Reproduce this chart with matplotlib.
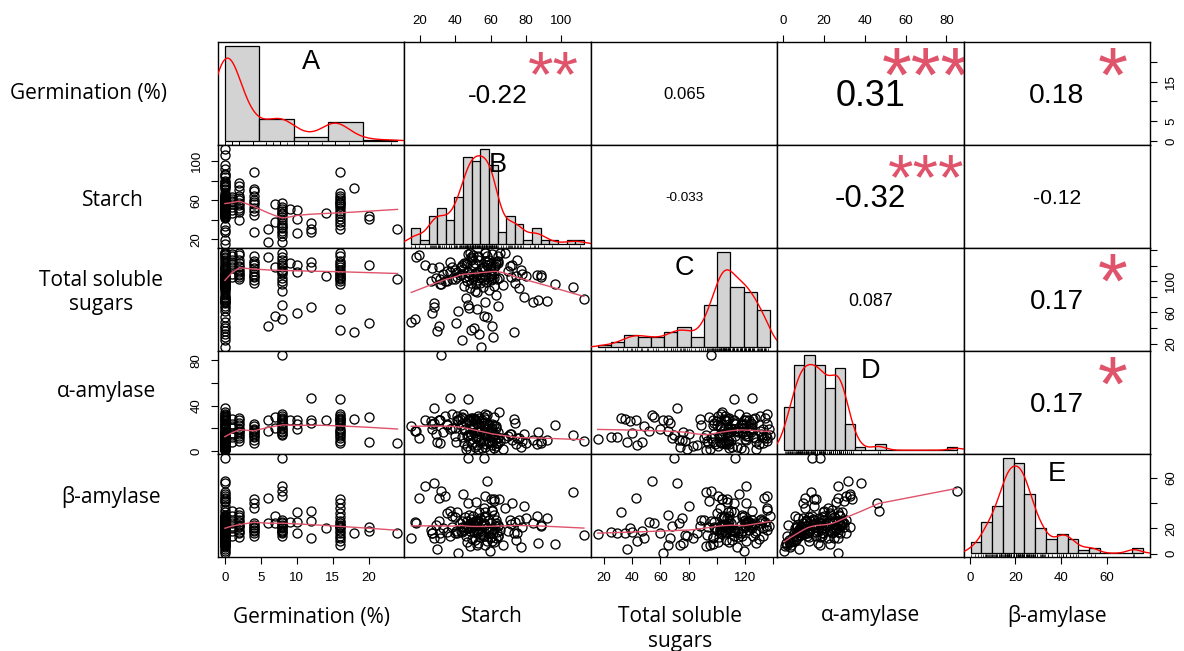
import numpy as np
import matplotlib
matplotlib.use("Agg")
import matplotlib.pyplot as plt
import matplotlib.transforms as mtransforms
from matplotlib.textpath import TextPath
from matplotlib.font_manager import FontProperties

plt.rcParams['font.family'] = ['Liberation Sans', 'DejaVu Sans']

# ---------------- data (one row per sample) ----------------
germination = [
    0, 0, 0, 0, 0, 0, 0, 0, 0, 0, 0, 0, 0, 0, 0, 0, 0, 0, 0, 0,
    0, 0, 0, 0, 0, 0, 0, 0, 0, 0, 0, 0, 0, 0, 0, 0, 0, 0, 0, 0,
    0, 0, 0, 0, 0, 0, 0, 0, 0, 0, 0, 0, 0, 0, 0, 0, 0, 0, 0, 0,
    0, 0, 0, 0, 0, 0, 0, 0, 0, 0,
    1, 1, 1, 1, 1, 1, 1, 1,
    2, 2, 2, 2, 2, 2, 2, 2, 2, 2, 2, 2,
    4, 4, 4, 4, 4, 4, 4, 4, 4, 4, 4,
    6, 6, 7, 7,
    8, 8, 8, 8, 8, 8, 8, 8, 8, 8, 8, 8, 8, 8, 8, 8,
    9, 10, 10, 10, 12, 12, 12, 14,
    16, 16, 16, 16, 16, 16, 16, 16, 16, 16, 16, 16, 16, 16, 16, 16, 16,
    18, 20, 20, 24,
]
starch = [
    15, 19.4, 27.6, 29.4, 34, 41.5, 42.5, 43.5, 44.4, 45,
    45.5, 46, 46.5, 46.8, 47.5, 48, 48.5, 49, 49.5, 50,
    50.5, 51, 51.5, 51.8, 52, 52.5, 53, 53.5, 53.8, 54,
    54.5, 55, 55.5, 56, 56.5, 57, 57.5, 58, 58.5, 59,
    59.5, 60, 60.5, 60.8, 61, 61.5, 61.8, 62, 62.5, 63,
    63.2, 63.5, 64, 64.5, 65, 67, 71.5, 73.5, 74.5, 76,
    77, 78.7, 80, 84, 86, 86.8, 91.7, 96.5, 106.5, 112.8,
    59, 53, 56, 61, 58, 50, 47, 63,
    78, 75, 71, 60, 57, 52, 50, 40, 64, 62, 55, 48,
    88.6, 72, 70, 60, 58, 56, 27, 64, 52, 45, 49,
    30.6, 17.4, 56, 38,
    31.7, 47, 23, 57, 53, 49, 46, 43, 40, 37, 33, 29, 26, 17, 51, 35,
    51, 41, 26.5, 50, 37, 30.5, 28, 47,
    88.6, 68, 64, 62, 60, 58, 56, 54, 47, 44, 41, 38, 35, 31, 52, 49, 57,
    73, 44, 40.5, 31,
]
total_sugars = [
    48, 133.5, 72, 36, 101, 62, 108, 25, 116, 94,
    105, 79, 122, 100.5, 65.5, 110, 92, 131.5, 130, 103,
    39.5, 111, 96, 107, 86, 102, 128, 32, 97.5, 104.5,
    15.4, 117, 93, 113, 74, 138, 99, 54, 106, 89,
    119, 101.5, 43, 135.5, 102.5, 29, 109, 94.5, 120, 83,
    125, 103.5, 68, 104, 136, 95, 105.5, 98, 106.5, 91,
    114, 80, 107.5, 73, 108.5, 76, 75, 97, 92.5, 77.5,
    128, 132, 118, 110, 125, 105, 135, 122,
    109, 127, 120, 115, 108, 112, 134, 103, 124, 118, 106, 137,
    105, 121, 113, 107, 133, 102, 117, 126, 110, 123, 98,
    42.7, 131, 55.6, 119,
    96, 69.5, 121, 136, 131, 127, 124, 118, 115, 112, 109, 104, 100, 51.7, 88, 113,
    123, 112, 59.8, 121, 125, 119, 67, 106.5,
    108, 136, 133, 104, 124, 121, 118, 115, 112, 109, 106, 103, 100, 97, 65, 38, 126,
    35, 121, 47, 103,
]
alpha_amylase = [
    22, 11, 38, 8, 31, 27, 28, 12, 33, 7,
    19, 2, 13.5, 4, 27.5, 9.5, 1, 14.8, 6.3, 21,
    16, 3, 11.5, 26, 5.5, 12.8, 1.5, 29, 7.5, 17.5,
    10.5, 2.5, 8.8, 18, 3.8, 14, 6, 32, 9, 22.5,
    0.6, 13, 5, 24, 7.8, 12.5, 2.8, 30, 10.8, 4.5,
    20, 6.8, 11.8, 34, 8.3, 1.8, 14.5, 25, 6.5, 11.3,
    3.5, 15, 7.3, 10, 5.8, 17, 9.8, 23, 13.8, 8.5,
    8, 12, 16, 20, 24, 28, 14, 22,
    9, 11, 15, 18, 19.5, 25, 29, 13, 17, 23, 27, 19,
    7, 10, 13, 16, 19, 22, 24, 12, 18, 18.5, 15,
    27, 18, 30, 20,
    85, 14, 27, 33, 31, 29, 25, 23, 19.8, 19, 17, 15, 26, 17.5, 28, 24,
    27, 27, 19, 24, 47, 27, 25, 27,
    9, 11, 7, 15, 19, 13, 25, 17, 46, 29, 31, 33, 23, 27, 18, 26, 28,
    28, 30, 8, 6.6,
]
beta_amylase = [
    12.5, 44.4, 56, 3.5, 46, 0.3, 24, 17, 47.5, 21,
    29, 14, 26, 9, 31, 18, 6, 27.5, 11.5, 22.5,
    17.5, 10.5, 25.5, 41, 16, 19, 8, 33, 13, 28,
    15.5, 23, 14.5, 75.5, 7, 29.5, 20, 57.5, 18.5, 26.5,
    2, 13.5, 10, 34.5, 19.5, 16.5, 9.5, 42, 21.5, 12,
    27, 17.2, 22, 43, 18.8, 6.5, 23.5, 25, 11, 26.8,
    5, 38, 28.2, 24.5, 30, 8.5, 28.5, 7.5, 49, 15,
    18, 26, 14, 34, 20, 30, 22, 24,
    21, 16, 27, 13, 33, 19, 25, 29, 23, 31, 17, 22,
    22.6, 40, 18, 43, 20, 36, 16, 14, 24, 19, 21,
    44.4, 24.4, 24, 30,
    50, 76, 54, 46, 27, 24, 21, 18, 16, 14, 20, 23, 19, 25, 22, 17,
    25, 32.7, 16.7, 25, 33.6, 25.6, 12.3, 20,
    22, 36, 14, 43, 24, 10, 29, 18, 40, 26, 16, 21, 32, 12, 7, 20, 23,
    16, 21, 18, 16,
]

var_labels = ["Germination (%)", "Starch", "Total soluble\nsugars", "α-amylase", "β-amylase"]
panel_letters = ["A", "B", "C", "D", "E"]
hist_breaks = [np.arange(0, 26, 5), np.arange(15, 116, 5), np.arange(10, 141, 10),
               np.arange(0, 86, 5), np.arange(0, 81, 5)]

cor_labels = {(0, 1): "-0.22", (0, 2): "0.065", (0, 3): "0.31", (0, 4): "0.18",
              (1, 2): "-0.033", (1, 3): "-0.32", (1, 4): "-0.12",
              (2, 3): "0.087", (2, 4): "0.17", (3, 4): "0.17"}
cor_stars = {(0, 1): "**", (0, 3): "***", (0, 4): "*", (1, 3): "***",
             (2, 4): "*", (3, 4): "*"}

top_axes = {1: ([20, 40, 60, 80, 100], ["20", "40", "60", "80", "100"]),
            3: ([0, 20, 40, 60, 80], ["0", "20", "40", "60", "80"])}
bottom_axes = {0: ([0, 5, 10, 15, 20], ["0", "5", "10", "15", "20"]),
               2: ([20, 40, 60, 80, 100, 120, 140], ["20", "40", "60", "80", "", "120", ""]),
               4: ([0, 20, 40, 60], ["0", "20", "40", "60"])}
left_axes = {1: ([20, 40, 60, 80, 100], ["20", "", "60", "", "100"]),
             3: ([0, 20, 40, 60, 80], ["0", "", "40", "", "80"])}
right_axes = {0: ([0, 5, 10, 15, 20], ["0", "5", "", "15", ""]),
              2: ([20, 40, 60, 80, 100, 120, 140], ["20", "", "60", "", "100", "", ""]),
              4: ([0, 20, 40, 60], ["0", "20", "", "60"])}

# ---------------- style / geometry ----------------
FIG_W, FIG_H = 1184, 651
X0, Y0, PW, PH = 218.0, 42.0, 186.4, 103.0
FAM = 'Liberation Sans'
LABEL_FAM = ['Open Sans', 'DejaVu Sans']
SMOOTH_COLOR = '#DF536B'
STAR_COLOR = '#DF536B'
TICK_FS = 9.5

left_label_pos = [(88, 94), (113, 200), (101, 280), (106, 392), (111, 497)]
bottom_label_pos = [(312, 617), (492, 617), (680, 616), (871, 616), (1057, 616)]
LINE_GAP = 25


def lowess(x, y, f=2 / 3, iters=3):
    x = np.asarray(x, float)
    y = np.asarray(y, float)
    o = np.argsort(x, kind="mergesort")
    x, y = x[o], y[o]
    n = len(x)
    ns = max(2, min(n, int(f * n + 1e-7)))
    rw = np.ones(n)
    fit = np.zeros(n)
    rng = x[-1] - x[0]
    for it in range(iters + 1):
        for i in range(n):
            d = np.abs(x - x[i])
            h = max(np.sort(d)[ns - 1], 1e-12)
            u = d / h
            w = np.where(u <= 0.001, 1.0, np.where(u <= 0.999, (1 - u ** 3) ** 3, 0.0)) * rw
            sw = w.sum()
            if sw <= 0:
                fit[i] = y[i]
                continue
            w = w / sw
            a = np.sum(w * x)
            c = np.sum(w * (x - a) ** 2)
            if np.sqrt(c) > 0.001 * rng:
                w = w * ((x[i] - a) * (x - a) / c + 1)
            fit[i] = np.sum(w * y)
        if it == iters:
            break
        res = y - fit
        cmad = 6 * np.median(np.abs(res))
        if cmad < 1e-7 * np.mean(np.abs(y)):
            break
        r = np.abs(res) / cmad
        rw = np.where(r <= 0.001, 1.0, np.where(r <= 0.999, (1 - r ** 2) ** 2, 0.0))
    return x, fit


def kde(x, npts=512, cut=3):
    x = np.asarray(x, float)
    sd = x.std(ddof=1)
    q75, q25 = np.percentile(x, [75, 25])
    lo = min(sd, (q75 - q25) / 1.34)
    if lo <= 0:
        lo = sd
    bw = 0.9 * lo * len(x) ** -0.2
    g = np.linspace(x.min() - cut * bw, x.max() + cut * bw, npts)
    dens = np.exp(-0.5 * ((g[:, None] - x[None, :]) / bw) ** 2).sum(1) / (len(x) * bw * np.sqrt(2 * np.pi))
    return g, dens


def hist_density(x, breaks):
    x = np.asarray(x, float)
    idx = np.clip(np.searchsorted(breaks, x, side='left') - 1, 0, len(breaks) - 2)
    counts = np.bincount(idx, minlength=len(breaks) - 1)
    widths = np.diff(breaks)
    return counts / (len(x) * widths)


def ext(lo, hi):
    d = hi - lo
    return lo - 0.04 * d, hi + 0.04 * d


def panel_rect(i, j):
    return [(X0 + j * PW) / FIG_W, 1 - (Y0 + (i + 1) * PH) / FIG_H, PW / FIG_W, PH / FIG_H]


fig = plt.figure(figsize=(FIG_W / 100, FIG_H / 100), dpi=100)
renderer = fig.canvas.get_renderer()


def ink_text(ax, x, y, s, fs, **kw):
    tp = TextPath((0, 0), s, size=1, prop=FontProperties(family=FAM))
    e = tp.get_extents()
    off = (e.y0 + e.y1) / 2 * fs
    tr = mtransforms.offset_copy(ax.transAxes, fig=fig, x=0, y=-off, units='points')
    ax.text(x, y, s, fontsize=fs, family=FAM, transform=tr, ha='center', va='baseline', **kw)


variables = [germination, starch, total_sugars, alpha_amylase, beta_amylase]
nv = len(variables)
lims = [ext(min(v), max(v)) for v in variables]

for i in range(nv):
    for j in range(nv):
        ax = fig.add_axes(panel_rect(i, j))
        ax.set_xlim(*lims[j])
        ax.set_ylim(*lims[i])
        ax.set_xticks([])
        ax.set_yticks([])
        for s in ax.spines.values():
            s.set_linewidth(1.0)
            s.set_color('black')
        if i > j:
            ax.plot(variables[j], variables[i], 'o', mfc='none', mec='black', ms=6.5, mew=0.95)
            lx, ly = lowess(variables[j], variables[i])
            ax.plot(lx, ly, color=SMOOTH_COLOR, lw=1.0)
        elif i < j:
            txt = cor_labels[(i, j)]
            r = abs(float(txt))
            w = renderer.get_text_width_height_descent(txt, FontProperties(family=FAM, size=100), ismath=False)[0]
            base = 100 * 0.8 * PW / w
            ink_text(ax, 0.5, 0.5, txt, base * (r + 0.3) / 1.3, color='black')
            if (i, j) in cor_stars:
                ink_text(ax, 0.8, 0.80, cor_stars[(i, j)], base, color=STAR_COLOR, clip_on=True)
        else:
            hx = fig.add_axes(panel_rect(i, j))
            hx.set_axis_off()
            br = np.asarray(hist_breaks[i], float)
            dens = hist_density(variables[i], br)
            m = dens.max()
            hx.set_xlim(*ext(br[0], br[-1]))
            hx.set_ylim(-0.04 * m, 1.04 * m)
            hx.bar(br[:-1], dens, width=np.diff(br), align='edge', color='#D3D3D3',
                   edgecolor='black', linewidth=0.9)
            gx, gy = kde(variables[i])
            hx.plot(gx, gy, color='red', lw=1.0)
            y0, y1 = hx.get_ylim()
            hx.vlines(variables[i], y0, y0 + 0.03 * (y1 - y0), color='black', lw=0.5)
            ink_text(hx, 0.5, 0.825, panel_letters[i], 19.5, color='black')

        tick_kw = dict(length=5, width=0.8, pad=6, direction='out', labelsize=TICK_FS, colors='black')
        if i == 0 and j in top_axes:
            t, lab = top_axes[j]
            ax.set_xticks(t)
            ax.set_xticklabels(lab)
            ax.tick_params(axis='x', top=True, bottom=False, labeltop=True, labelbottom=False, **tick_kw)
        if i == nv - 1 and j in bottom_axes:
            t, lab = bottom_axes[j]
            ax.set_xticks(t)
            ax.set_xticklabels(lab)
            ax.tick_params(axis='x', top=False, bottom=True, labeltop=False, labelbottom=True, **tick_kw)
        if j == 0 and i in left_axes:
            t, lab = left_axes[i]
            ax.set_yticks(t)
            ax.set_yticklabels(lab, rotation=90, va='center')
            ax.tick_params(axis='y', left=True, right=False, labelleft=True, labelright=False, **tick_kw)
        if j == nv - 1 and i in right_axes:
            t, lab = right_axes[i]
            ax.set_yticks(t)
            ax.set_yticklabels(lab, rotation=90, va='center')
            ax.tick_params(axis='y', left=False, right=True, labelleft=False, labelright=True, **tick_kw)
        ax.set_xlim(*lims[j])
        ax.set_ylim(*lims[i])

for k, name in enumerate(var_labels):
    lines = name.split("\n")
    lx, ly = left_label_pos[k]
    bx, by = bottom_label_pos[k]
    for m_, line in enumerate(lines):
        fig.text(lx / FIG_W, 1 - (ly + m_ * LINE_GAP) / FIG_H, line, family=LABEL_FAM,
                 fontsize=15, ha='center', va='center', color='black')
        fig.text(bx / FIG_W, 1 - (by + m_ * LINE_GAP) / FIG_H, line, family=LABEL_FAM,
                 fontsize=15, ha='center', va='center', color='black')

fig.savefig('out.png', dpi=100)
